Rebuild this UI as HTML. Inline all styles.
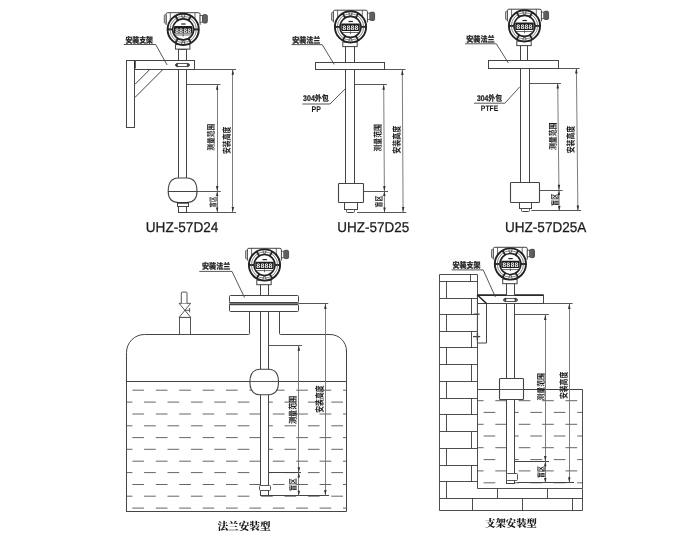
<!DOCTYPE html>
<html lang="zh-CN">
<head>
<meta charset="utf-8">
<title>UHZ-57D 安装示意图</title>
<style>
html,body{margin:0;padding:0;background:#fff;}
body{width:700px;height:546px;overflow:hidden;}
svg{display:block;will-change:transform;}
svg text{text-rendering:geometricPrecision;}
.cj{font-family:"Liberation Sans","Noto Sans CJK SC",sans-serif;font-weight:700;fill:#222;stroke:#222;stroke-width:.3;}
.cs{font-family:"Liberation Sans","Noto Sans CJK SC",sans-serif;font-weight:700;fill:#222;stroke:#222;stroke-width:.25;}
.cv{font-family:"Liberation Sans","Noto Sans CJK SC",sans-serif;font-weight:700;fill:#1a1a1a;stroke:none;}
.ct{font-family:"Liberation Serif","Noto Serif CJK SC",serif;font-weight:900;fill:#1a1a1a;stroke:none;}
.la{font-family:"Liberation Sans",sans-serif;font-weight:400;fill:#1a1a1a;stroke:#1a1a1a;stroke-width:.25;}
.lb{font-family:"Liberation Sans",sans-serif;font-weight:700;fill:#151515;stroke:none;}
.lcd{font-family:"Liberation Mono",monospace;font-weight:700;stroke:none;}
</style>
</head>
<body>
<svg width="700" height="546" viewBox="0 0 700 546" fill="none" stroke="#444444" stroke-linecap="butt" stroke-linejoin="miter">
<defs>
<clipPath id="tank"><rect x="126.8" y="382" width="220" height="129.8"/></clipPath>
<clipPath id="pit"><rect x="477.2" y="389.5" width="105.3" height="99.3"/></clipPath>
</defs>
<rect x="0" y="0" width="700" height="546" fill="#fff" stroke="none"/>
<rect x="126.5" y="60.5" width="8.0" height="67.0" fill="#fff" stroke-width="1"/>
<rect x="134.5" y="60.5" width="60.0" height="9.0" fill="#fff" stroke-width="1"/>
<line x1="134.9" y1="61.0" x2="134.9" y2="68.6" stroke-width="1.6" stroke="#222"/>
<line x1="134.9" y1="84.4" x2="149.9" y2="69.4" stroke-width="1"/>
<line x1="134.9" y1="97.5" x2="163.0" y2="69.4" stroke-width="1"/>
<rect x="178.5" y="49.5" width="8.0" height="11.0" fill="#fff" stroke-width="1"/>
<rect x="178.5" y="69.5" width="8.0" height="111.0" fill="#fff" stroke-width="1"/>
<rect x="175.5" y="63.5" width="14.0" height="3.0" fill="#fff" stroke-width="0.9" rx="1.8"/>
<path d="M175.4 65.1L177.6 63.1V67.1ZM189.4 65.1L187.2 63.1V67.1Z" fill="#222" stroke-width="0.5"/>
<path d="M178.2 178.0C171.5 178.2 168.2 183.1 168.2 191.3C168.2 198.3 171.5 202.4 178.2 202.6H187.0C193.7 202.4 197.0 198.3 197.0 191.3C197.0 183.1 193.7 178.2 187.0 178.0Z" fill="#fff" stroke-width="1.1"/>
<line x1="168.2" y1="191.5" x2="197.0" y2="191.5" stroke-width="0.9" stroke="#222"/>
<rect x="177.5" y="202.5" width="11.0" height="4.0" fill="#fff" stroke-width="1"/>
<line x1="177.2" y1="203.0" x2="188.3" y2="203.0" stroke-width="1.3" stroke="#222"/>
<rect x="178.5" y="206.5" width="8.0" height="6.0" fill="#fff" stroke-width="1"/>
<g transform="translate(183.2 29.4)">
<path d="M-17.1 -4.5V-15.2Q-17.1 -16.7 -15.6 -16.7H15.4Q16.9 -16.7 16.9 -15.2V-4.5" fill="#fff" stroke-width="1"/>
<path d="M-12.9 -16.7V-9M11.8 -16.7V-9" fill="none" stroke-width="0.8"/>
<rect x="-18.9" y="-14.5" width="1.8" height="8.2" rx="0.6" fill="#ddd" stroke-width="0.8"/>
<rect x="16.9" y="-13.8" width="2.6" height="6.6" fill="#fff" stroke-width="0.8"/>
<rect x="19.5" y="-14.7" width="4.6" height="8.3" rx="1.3" fill="#7d7d7d" stroke-width="0.9"/>
<path d="M20.8 -14.7V-6.4M22 -14.7V-6.4M23.1 -14.5V-6.6" stroke-width="0.6" fill="none"/>
<rect x="-7.7" y="15.2" width="14.4" height="4.5" fill="#fff" stroke-width="1"/>
<circle r="15.6" fill="#fff" stroke-width="1.9" stroke="#222"/>
<line x1="10.60" y1="0.00" x2="15.40" y2="0.00" stroke-width="1.9" stroke="#222"/>
<line x1="5.30" y1="9.18" x2="7.70" y2="13.34" stroke-width="1.9" stroke="#222"/>
<line x1="-5.30" y1="9.18" x2="-7.70" y2="13.34" stroke-width="1.9" stroke="#222"/>
<line x1="-10.60" y1="0.00" x2="-15.40" y2="0.00" stroke-width="1.9" stroke="#222"/>
<line x1="-5.30" y1="-9.18" x2="-7.70" y2="-13.34" stroke-width="1.9" stroke="#222"/>
<line x1="5.30" y1="-9.18" x2="7.70" y2="-13.34" stroke-width="1.9" stroke="#222"/>
<circle r="13.2" fill="none" stroke-width="0.7" stroke="#555"/>
<path d="M-1.6 -14.6L-1 -11.6H1L1.6 -14.6M-1.6 14.6L-1 11.6H1L1.6 14.6" stroke-width="0.8" fill="none"/>
<circle r="10.5" fill="#fff" stroke-width="1.6" stroke="#222"/>
<rect x="-9.2" y="-3.3" width="18.4" height="7.4" rx="1" fill="#1c1c1c" stroke="none"/>
<text class="lcd" x="-8.2" y="3.1" font-size="6.8" textLength="16.4" lengthAdjust="spacingAndGlyphs" fill="#f4f4f4">8888</text>
<path d="M-2 -5.4H2.4" stroke-width="1.2" fill="none" stroke="#222"/>
<path d="M-8.6 5.6H8.6M0 4.4V7.2" stroke-width="0.8" fill="none"/>
</g>
<path d="M123.7 44.5H155.7L167.1 65" fill="none" stroke-width="0.9"/>
<text class="cj" x="125.4" y="42.5" font-size="8.2" textLength="27.5" lengthAdjust="spacingAndGlyphs">安装支架</text>
<line x1="186.6" y1="84.5" x2="220.4" y2="84.5" stroke-width="0.9"/>
<line x1="194.5" y1="69.5" x2="236.0" y2="69.5" stroke-width="0.9"/>
<line x1="168.6" y1="191.5" x2="220.8" y2="191.5" stroke-width="0.9"/>
<line x1="186.2" y1="212.5" x2="236.0" y2="212.5" stroke-width="0.9"/>
<line x1="217.5" y1="84.4" x2="217.5" y2="212.3" stroke-width="0.9" stroke="#6e6e6e"/>
<line x1="232.5" y1="69.3" x2="232.5" y2="212.3" stroke-width="0.9" stroke="#6e6e6e"/>
<path d="M217.2 84.4L215.9 89.8L218.4 89.8Z" fill="#333" stroke="none"/>
<path d="M217.2 191.3L215.9 185.9L218.4 185.9Z" fill="#333" stroke="none"/>
<path d="M217.2 191.3L215.9 196.1L218.4 196.1Z" fill="#333" stroke="none"/>
<path d="M217.2 212.3L215.9 207.5L218.4 207.5Z" fill="#333" stroke="none"/>
<path d="M232.8 69.3L231.6 74.7L234.1 74.7Z" fill="#333" stroke="none"/>
<path d="M232.8 212.3L231.6 206.9L234.1 206.9Z" fill="#333" stroke="none"/>
<text class="cv" transform="translate(214.2 150.7) rotate(-90)" font-size="8.4" textLength="27.0" lengthAdjust="spacingAndGlyphs">测量范围</text>
<text class="cv" transform="translate(229.8 154.0) rotate(-90)" font-size="9.1" textLength="27.5" lengthAdjust="spacingAndGlyphs">安装高度</text>
<text class="cv" transform="translate(215.6 207.5) rotate(-90)" font-size="7.9" textLength="11.0" lengthAdjust="spacingAndGlyphs">盲区</text>
<text class="la" x="145.8" y="232.0" font-size="14.3" textLength="72.6" lengthAdjust="spacingAndGlyphs">UHZ-57D24</text>
<rect x="345.5" y="46.5" width="9.0" height="16.0" fill="#fff" stroke-width="1"/>
<rect x="315.5" y="62.5" width="69.0" height="7.0" fill="#fff" stroke-width="1"/>
<rect x="345.5" y="69.5" width="9.0" height="115.0" fill="#fff" stroke-width="1"/>
<rect x="338.5" y="183.5" width="25.0" height="19.0" fill="#fff" stroke-width="1.1" rx="0.8"/>
<rect x="344.5" y="202.5" width="13.0" height="7.0" fill="#fff" stroke-width="1"/>
<rect x="346.5" y="209.5" width="8.0" height="3.0" fill="#fff" stroke-width="1" rx="1"/>
<g transform="translate(350.5 26.9)">
<path d="M-17.1 -4.5V-15.2Q-17.1 -16.7 -15.6 -16.7H15.4Q16.9 -16.7 16.9 -15.2V-4.5" fill="#fff" stroke-width="1"/>
<path d="M-12.9 -16.7V-9M11.8 -16.7V-9" fill="none" stroke-width="0.8"/>
<rect x="-18.9" y="-14.5" width="1.8" height="8.2" rx="0.6" fill="#ddd" stroke-width="0.8"/>
<rect x="16.9" y="-13.8" width="2.6" height="6.6" fill="#fff" stroke-width="0.8"/>
<rect x="19.5" y="-14.7" width="4.6" height="8.3" rx="1.3" fill="#7d7d7d" stroke-width="0.9"/>
<path d="M20.8 -14.7V-6.4M22 -14.7V-6.4M23.1 -14.5V-6.6" stroke-width="0.6" fill="none"/>
<rect x="-7.7" y="15.2" width="14.4" height="4.5" fill="#fff" stroke-width="1"/>
<circle r="15.6" fill="#fff" stroke-width="1.9" stroke="#222"/>
<line x1="10.60" y1="0.00" x2="15.40" y2="0.00" stroke-width="1.9" stroke="#222"/>
<line x1="5.30" y1="9.18" x2="7.70" y2="13.34" stroke-width="1.9" stroke="#222"/>
<line x1="-5.30" y1="9.18" x2="-7.70" y2="13.34" stroke-width="1.9" stroke="#222"/>
<line x1="-10.60" y1="0.00" x2="-15.40" y2="0.00" stroke-width="1.9" stroke="#222"/>
<line x1="-5.30" y1="-9.18" x2="-7.70" y2="-13.34" stroke-width="1.9" stroke="#222"/>
<line x1="5.30" y1="-9.18" x2="7.70" y2="-13.34" stroke-width="1.9" stroke="#222"/>
<circle r="13.2" fill="none" stroke-width="0.7" stroke="#555"/>
<path d="M-1.6 -14.6L-1 -11.6H1L1.6 -14.6M-1.6 14.6L-1 11.6H1L1.6 14.6" stroke-width="0.8" fill="none"/>
<circle r="10.5" fill="#fff" stroke-width="1.6" stroke="#222"/>
<rect x="-9.2" y="-3.3" width="18.4" height="7.4" rx="1" fill="#1c1c1c" stroke="none"/>
<text class="lcd" x="-8.2" y="3.1" font-size="6.8" textLength="16.4" lengthAdjust="spacingAndGlyphs" fill="#f4f4f4">8888</text>
<path d="M-2 -5.4H2.4" stroke-width="1.2" fill="none" stroke="#222"/>
<path d="M-8.6 5.6H8.6M0 4.4V7.2" stroke-width="0.8" fill="none"/>
</g>
<path d="M291.5 44.6H322.2L334.2 64.4" fill="none" stroke-width="0.9"/>
<text class="cj" x="292.2" y="42.5" font-size="8.2" textLength="28.1" lengthAdjust="spacingAndGlyphs">安装法兰</text>
<path d="M302.4 104H330L345.6 88.5" fill="none" stroke-width="0.9"/>
<text class="cs" x="303.1" y="101.3" font-size="8.2" textLength="25.7" lengthAdjust="spacingAndGlyphs">304外包</text>
<text class="lb" x="311.6" y="111.8" font-size="8.2" textLength="9.2" lengthAdjust="spacingAndGlyphs">PP</text>
<line x1="354.8" y1="84.5" x2="386.9" y2="84.5" stroke-width="0.9"/>
<line x1="384.0" y1="69.5" x2="405.5" y2="69.5" stroke-width="0.9"/>
<line x1="363.3" y1="191.5" x2="388.0" y2="191.5" stroke-width="0.9"/>
<line x1="357.0" y1="212.5" x2="406.3" y2="212.5" stroke-width="0.9"/>
<line x1="383.7" y1="84.4" x2="384.5" y2="212.3" stroke-width="0.9" stroke="#6e6e6e"/>
<line x1="402.3" y1="69.6" x2="403.1" y2="212.3" stroke-width="0.9" stroke="#6e6e6e"/>
<path d="M383.7 84.4L382.4 89.8L384.9 89.8Z" fill="#333" stroke="none"/>
<path d="M384.4 191.3L383.1 185.9L385.6 185.9Z" fill="#333" stroke="none"/>
<path d="M384.4 191.3L383.1 196.1L385.6 196.1Z" fill="#333" stroke="none"/>
<path d="M384.5 212.3L383.2 207.5L385.8 207.5Z" fill="#333" stroke="none"/>
<path d="M402.3 69.6L401.1 75.0L403.6 75.0Z" fill="#333" stroke="none"/>
<path d="M403.1 212.3L401.9 206.9L404.4 206.9Z" fill="#333" stroke="none"/>
<text class="cv" transform="translate(381.4 151.5) rotate(-90)" font-size="8.9" textLength="27.5" lengthAdjust="spacingAndGlyphs">测量范围</text>
<text class="cv" transform="translate(399.8 153.7) rotate(-90)" font-size="9.2" textLength="27.9" lengthAdjust="spacingAndGlyphs">安装高度</text>
<text class="cv" transform="translate(382.0 207.5) rotate(-90)" font-size="8.4" textLength="11.8" lengthAdjust="spacingAndGlyphs">盲区</text>
<text class="la" x="337.3" y="232.0" font-size="14.3" textLength="71.9" lengthAdjust="spacingAndGlyphs">UHZ-57D25</text>
<rect x="520.5" y="45.5" width="7.0" height="16.0" fill="#fff" stroke-width="1"/>
<rect x="488.5" y="60.5" width="70.0" height="8.0" fill="#fff" stroke-width="1"/>
<rect x="520.5" y="68.5" width="9.0" height="115.0" fill="#fff" stroke-width="1"/>
<rect x="510.5" y="182.5" width="29.0" height="20.0" fill="#fff" stroke-width="1.1" rx="0.8"/>
<rect x="519.5" y="202.5" width="12.0" height="6.0" fill="#fff" stroke-width="1"/>
<rect x="521.5" y="208.5" width="8.0" height="3.0" fill="#fff" stroke-width="1" rx="1"/>
<g transform="translate(524.5 25.9)">
<path d="M-17.1 -4.5V-15.2Q-17.1 -16.7 -15.6 -16.7H15.4Q16.9 -16.7 16.9 -15.2V-4.5" fill="#fff" stroke-width="1"/>
<path d="M-12.9 -16.7V-9M11.8 -16.7V-9" fill="none" stroke-width="0.8"/>
<rect x="-18.9" y="-14.5" width="1.8" height="8.2" rx="0.6" fill="#ddd" stroke-width="0.8"/>
<rect x="16.9" y="-13.8" width="2.6" height="6.6" fill="#fff" stroke-width="0.8"/>
<rect x="19.5" y="-14.7" width="4.6" height="8.3" rx="1.3" fill="#7d7d7d" stroke-width="0.9"/>
<path d="M20.8 -14.7V-6.4M22 -14.7V-6.4M23.1 -14.5V-6.6" stroke-width="0.6" fill="none"/>
<rect x="-7.7" y="15.2" width="14.4" height="4.5" fill="#fff" stroke-width="1"/>
<circle r="15.6" fill="#fff" stroke-width="1.9" stroke="#222"/>
<line x1="10.60" y1="0.00" x2="15.40" y2="0.00" stroke-width="1.9" stroke="#222"/>
<line x1="5.30" y1="9.18" x2="7.70" y2="13.34" stroke-width="1.9" stroke="#222"/>
<line x1="-5.30" y1="9.18" x2="-7.70" y2="13.34" stroke-width="1.9" stroke="#222"/>
<line x1="-10.60" y1="0.00" x2="-15.40" y2="0.00" stroke-width="1.9" stroke="#222"/>
<line x1="-5.30" y1="-9.18" x2="-7.70" y2="-13.34" stroke-width="1.9" stroke="#222"/>
<line x1="5.30" y1="-9.18" x2="7.70" y2="-13.34" stroke-width="1.9" stroke="#222"/>
<circle r="13.2" fill="none" stroke-width="0.7" stroke="#555"/>
<path d="M-1.6 -14.6L-1 -11.6H1L1.6 -14.6M-1.6 14.6L-1 11.6H1L1.6 14.6" stroke-width="0.8" fill="none"/>
<circle r="10.5" fill="#fff" stroke-width="1.6" stroke="#222"/>
<rect x="-9.2" y="-3.3" width="18.4" height="7.4" rx="1" fill="#1c1c1c" stroke="none"/>
<text class="lcd" x="-8.2" y="3.1" font-size="6.8" textLength="16.4" lengthAdjust="spacingAndGlyphs" fill="#f4f4f4">8888</text>
<path d="M-2 -5.4H2.4" stroke-width="1.2" fill="none" stroke="#222"/>
<path d="M-8.6 5.6H8.6M0 4.4V7.2" stroke-width="0.8" fill="none"/>
</g>
<path d="M465 43.8H496.3L508.4 63" fill="none" stroke-width="0.9"/>
<text class="cj" x="466.2" y="41.6" font-size="8.2" textLength="28.4" lengthAdjust="spacingAndGlyphs">安装法兰</text>
<path d="M473.9 103.2H504.9L519.8 86.8" fill="none" stroke-width="0.9"/>
<text class="cs" x="476.9" y="100.7" font-size="8.2" textLength="25.1" lengthAdjust="spacingAndGlyphs">304外包</text>
<text class="lb" x="480.8" y="110.9" font-size="8.0" textLength="17.6" lengthAdjust="spacingAndGlyphs">PTFE</text>
<line x1="529.0" y1="83.5" x2="560.9" y2="83.5" stroke-width="0.9"/>
<line x1="558.4" y1="68.5" x2="579.6" y2="68.5" stroke-width="0.9"/>
<line x1="539.6" y1="190.5" x2="562.6" y2="190.5" stroke-width="0.9"/>
<line x1="531.3" y1="210.5" x2="581.1" y2="210.5" stroke-width="0.9"/>
<line x1="557.7" y1="83.2" x2="559.2" y2="210.8" stroke-width="0.9" stroke="#6e6e6e"/>
<line x1="576.4" y1="68.1" x2="577.9" y2="210.8" stroke-width="0.9" stroke="#6e6e6e"/>
<path d="M557.7 83.2L556.5 88.6L559.0 88.6Z" fill="#333" stroke="none"/>
<path d="M559.0 190.2L557.7 184.8L560.2 184.8Z" fill="#333" stroke="none"/>
<path d="M559.0 190.2L557.7 195.0L560.2 195.0Z" fill="#333" stroke="none"/>
<path d="M559.2 210.8L558.0 206.0L560.5 206.0Z" fill="#333" stroke="none"/>
<path d="M576.4 68.1L575.1 73.5L577.6 73.5Z" fill="#333" stroke="none"/>
<path d="M577.9 210.8L576.6 205.4L579.1 205.4Z" fill="#333" stroke="none"/>
<text class="cv" transform="translate(555.5 150.0) rotate(-90)" font-size="8.6" textLength="27.5" lengthAdjust="spacingAndGlyphs">测量范围</text>
<text class="cv" transform="translate(573.7 153.3) rotate(-90)" font-size="9.2" textLength="27.5" lengthAdjust="spacingAndGlyphs">安装高度</text>
<text class="cv" transform="translate(557.8 206.0) rotate(-90)" font-size="8.4" textLength="12.4" lengthAdjust="spacingAndGlyphs">盲区</text>
<text class="la" x="505.0" y="232.0" font-size="14.3" textLength="81.3" lengthAdjust="spacingAndGlyphs">UHZ-57D25A</text>
<g clip-path="url(#tank)">
<line x1="132.4" y1="390.2" x2="347" y2="390.2" stroke="#555" stroke-width="0.9" stroke-dasharray="11.7 11.7"/>
<line x1="120.7" y1="402.1" x2="347" y2="402.1" stroke="#555" stroke-width="0.9" stroke-dasharray="11.7 11.7"/>
<line x1="132.4" y1="414.0" x2="347" y2="414.0" stroke="#555" stroke-width="0.9" stroke-dasharray="11.7 11.7"/>
<line x1="120.7" y1="425.8" x2="347" y2="425.8" stroke="#555" stroke-width="0.9" stroke-dasharray="11.7 11.7"/>
<line x1="132.4" y1="437.6" x2="347" y2="437.6" stroke="#555" stroke-width="0.9" stroke-dasharray="11.7 11.7"/>
<line x1="120.7" y1="449.3" x2="347" y2="449.3" stroke="#555" stroke-width="0.9" stroke-dasharray="11.7 11.7"/>
<line x1="132.4" y1="461.2" x2="347" y2="461.2" stroke="#555" stroke-width="0.9" stroke-dasharray="11.7 11.7"/>
<line x1="120.7" y1="472.6" x2="347" y2="472.6" stroke="#555" stroke-width="0.9" stroke-dasharray="11.7 11.7"/>
<line x1="132.4" y1="484.5" x2="347" y2="484.5" stroke="#555" stroke-width="0.9" stroke-dasharray="11.7 11.7"/>
<line x1="120.7" y1="496.2" x2="347" y2="496.2" stroke="#555" stroke-width="0.9" stroke-dasharray="11.7 11.7"/>
<line x1="132.4" y1="508.1" x2="347" y2="508.1" stroke="#555" stroke-width="0.9" stroke-dasharray="11.7 11.7"/>
</g>
<path d="M126.5 511.5V352.5A18 18 0 0 1 144.5 334.5H248.5Q249.5 334.5 249.5 333.5V311.6M279.5 311.6V333.5Q279.5 334.5 280.5 334.5H330A16.5 16.5 0 0 1 346.5 351V511.5H126" fill="none" stroke-width="1"/>
<line x1="126.8" y1="381.5" x2="346.8" y2="381.5" stroke-width="1"/>
<rect x="179.5" y="317.5" width="11.0" height="17.0" fill="#fff" stroke-width="0.9"/>
<path d="M179.1 303.3H190.7L179.1 317.4H190.7Z" fill="#fff" stroke-width="0.9"/>
<path d="M184.9 310.3H189.6M189.6 308V312.4" fill="none" stroke-width="0.9"/>
<path d="M181.3 303.3V292.9Q181.3 292.1 182.1 292.1H186.2Q187 292.1 187 292.9V303.3" fill="#fff" stroke-width="0.9"/>
<rect x="260.5" y="284.5" width="8.0" height="12.0" fill="#fff" stroke-width="1"/>
<rect x="229.6" y="302.2" width="68.2" height="2.8" fill="#8c8c8c" stroke-width="0.1"/>
<rect x="229.5" y="295.5" width="69.0" height="7.0" fill="#fff" stroke-width="1" rx="1"/>
<rect x="229.5" y="304.5" width="69.0" height="7.0" fill="#fff" stroke-width="1" rx="1"/>
<line x1="229.2" y1="302.6" x2="298.2" y2="302.6" stroke-width="1.3"/>
<line x1="229.2" y1="304.7" x2="298.2" y2="304.7" stroke-width="1.3"/>
<rect x="260.5" y="311.5" width="8.0" height="184.0" fill="#fff" stroke-width="1"/>
<rect x="259.5" y="485.5" width="11.0" height="5.0" fill="#fff" stroke-width="0.9" rx="1"/>
<path d="M259.8 369.3C253.2 369.5 249.9 374.1 249.9 382.0C249.9 389.9 253.2 394.5 259.8 394.7H268.6C275.2 394.5 278.5 389.9 278.5 382.0C278.5 374.1 275.2 369.5 268.6 369.3Z" fill="#fff" stroke-width="1.1"/>
<line x1="249.8" y1="381.5" x2="278.8" y2="381.5" stroke-width="0.9"/>
<g transform="translate(264.5 265.0)">
<path d="M-17.1 -4.5V-15.2Q-17.1 -16.7 -15.6 -16.7H15.4Q16.9 -16.7 16.9 -15.2V-4.5" fill="#fff" stroke-width="1"/>
<path d="M-12.9 -16.7V-9M11.8 -16.7V-9" fill="none" stroke-width="0.8"/>
<rect x="-18.9" y="-14.5" width="1.8" height="8.2" rx="0.6" fill="#ddd" stroke-width="0.8"/>
<rect x="16.9" y="-13.8" width="2.6" height="6.6" fill="#fff" stroke-width="0.8"/>
<rect x="19.5" y="-14.7" width="4.6" height="8.3" rx="1.3" fill="#7d7d7d" stroke-width="0.9"/>
<path d="M20.8 -14.7V-6.4M22 -14.7V-6.4M23.1 -14.5V-6.6" stroke-width="0.6" fill="none"/>
<rect x="-7.7" y="15.2" width="14.4" height="4.5" fill="#fff" stroke-width="1"/>
<circle r="15.6" fill="#fff" stroke-width="1.9" stroke="#222"/>
<line x1="10.60" y1="0.00" x2="15.40" y2="0.00" stroke-width="1.9" stroke="#222"/>
<line x1="5.30" y1="9.18" x2="7.70" y2="13.34" stroke-width="1.9" stroke="#222"/>
<line x1="-5.30" y1="9.18" x2="-7.70" y2="13.34" stroke-width="1.9" stroke="#222"/>
<line x1="-10.60" y1="0.00" x2="-15.40" y2="0.00" stroke-width="1.9" stroke="#222"/>
<line x1="-5.30" y1="-9.18" x2="-7.70" y2="-13.34" stroke-width="1.9" stroke="#222"/>
<line x1="5.30" y1="-9.18" x2="7.70" y2="-13.34" stroke-width="1.9" stroke="#222"/>
<circle r="13.2" fill="none" stroke-width="0.7" stroke="#555"/>
<path d="M-1.6 -14.6L-1 -11.6H1L1.6 -14.6M-1.6 14.6L-1 11.6H1L1.6 14.6" stroke-width="0.8" fill="none"/>
<circle r="10.5" fill="#fff" stroke-width="1.6" stroke="#222"/>
<rect x="-9.2" y="-3.3" width="18.4" height="7.4" rx="1" fill="#1c1c1c" stroke="none"/>
<text class="lcd" x="-8.2" y="3.1" font-size="6.8" textLength="16.4" lengthAdjust="spacingAndGlyphs" fill="#f4f4f4">8888</text>
<path d="M-2 -5.4H2.4" stroke-width="1.2" fill="none" stroke="#222"/>
<path d="M-8.6 5.6H8.6M0 4.4V7.2" stroke-width="0.8" fill="none"/>
</g>
<path d="M199.3 271.4H232L244.5 297.5" fill="none" stroke-width="0.9"/>
<text class="cj" x="202.1" y="268.7" font-size="8.2" textLength="28.1" lengthAdjust="spacingAndGlyphs">安装法兰</text>
<line x1="268.7" y1="345.5" x2="302.0" y2="345.5" stroke-width="0.9"/>
<line x1="298.2" y1="303.5" x2="328.2" y2="303.5" stroke-width="0.9"/>
<line x1="268.7" y1="472.5" x2="301.0" y2="472.5" stroke-width="1.1"/>
<line x1="261.0" y1="495.5" x2="329.0" y2="495.5" stroke-width="1.0"/>
<line x1="298.5" y1="345.4" x2="298.5" y2="495.5" stroke-width="0.9" stroke="#6e6e6e"/>
<line x1="325.5" y1="303.6" x2="325.5" y2="495.5" stroke-width="0.9" stroke="#6e6e6e"/>
<path d="M298.8 345.4L297.6 350.8L300.1 350.8Z" fill="#333" stroke="none"/>
<path d="M298.8 472.6L297.6 467.2L300.1 467.2Z" fill="#333" stroke="none"/>
<path d="M298.8 472.6L297.6 477.4L300.1 477.4Z" fill="#333" stroke="none"/>
<path d="M298.8 495.5L297.6 490.7L300.1 490.7Z" fill="#333" stroke="none"/>
<path d="M325.3 303.6L324.1 309.0L326.6 309.0Z" fill="#333" stroke="none"/>
<path d="M325.3 495.5L324.1 490.1L326.6 490.1Z" fill="#333" stroke="none"/>
<text class="cv" transform="translate(295.8 424.0) rotate(-90)" font-size="8.8" textLength="28.4" lengthAdjust="spacingAndGlyphs">测量范围</text>
<text class="cv" transform="translate(323.4 412.8) rotate(-90)" font-size="9.3" textLength="27.4" lengthAdjust="spacingAndGlyphs">安装高度</text>
<text class="cv" transform="translate(296.4 491.2) rotate(-90)" font-size="8.4" textLength="13.0" lengthAdjust="spacingAndGlyphs">盲区</text>
<text class="ct" x="217.4" y="530.2" font-size="10.8" textLength="53.3" lengthAdjust="spacingAndGlyphs">法兰安装型</text>
<g clip-path="url(#pit)">
<line x1="471.9" y1="400.7" x2="583" y2="400.7" stroke="#555" stroke-width="0.9" stroke-dasharray="11.7 11.7"/>
<line x1="483.6" y1="412.4" x2="583" y2="412.4" stroke="#555" stroke-width="0.9" stroke-dasharray="11.7 11.7"/>
<line x1="471.9" y1="424.3" x2="583" y2="424.3" stroke="#555" stroke-width="0.9" stroke-dasharray="11.7 11.7"/>
<line x1="483.6" y1="436.0" x2="583" y2="436.0" stroke="#555" stroke-width="0.9" stroke-dasharray="11.7 11.7"/>
<line x1="471.9" y1="447.7" x2="583" y2="447.7" stroke="#555" stroke-width="0.9" stroke-dasharray="11.7 11.7"/>
<line x1="483.6" y1="459.6" x2="583" y2="459.6" stroke="#555" stroke-width="0.9" stroke-dasharray="11.7 11.7"/>
<line x1="471.9" y1="470.9" x2="583" y2="470.9" stroke="#555" stroke-width="0.9" stroke-dasharray="11.7 11.7"/>
<line x1="483.6" y1="482.8" x2="583" y2="482.8" stroke="#555" stroke-width="0.9" stroke-dasharray="11.7 11.7"/>
</g>
<path d="M439.5 510.5V274.5H477.5V488.5H582.5V389.5M582.5 488.5V510.5H439.5" fill="none" stroke-width="0.9" stroke="#3a3a3a"/>
<line x1="477.2" y1="389.5" x2="582.5" y2="389.5" stroke-width="1"/>
<line x1="439.5" y1="281.5" x2="477.5" y2="281.5" stroke-width="0.9" stroke="#3a3a3a"/>
<line x1="439.5" y1="298.5" x2="477.5" y2="298.5" stroke-width="0.9" stroke="#3a3a3a"/>
<line x1="439.5" y1="314.5" x2="477.5" y2="314.5" stroke-width="0.9" stroke="#3a3a3a"/>
<line x1="439.5" y1="331.5" x2="477.5" y2="331.5" stroke-width="0.9" stroke="#3a3a3a"/>
<line x1="439.5" y1="347.5" x2="477.5" y2="347.5" stroke-width="0.9" stroke="#3a3a3a"/>
<line x1="439.5" y1="364.5" x2="477.5" y2="364.5" stroke-width="0.9" stroke="#3a3a3a"/>
<line x1="439.5" y1="381.5" x2="477.5" y2="381.5" stroke-width="0.9" stroke="#3a3a3a"/>
<line x1="439.5" y1="398.5" x2="477.5" y2="398.5" stroke-width="0.9" stroke="#3a3a3a"/>
<line x1="439.5" y1="414.5" x2="477.5" y2="414.5" stroke-width="0.9" stroke="#3a3a3a"/>
<line x1="439.5" y1="431.5" x2="477.5" y2="431.5" stroke-width="0.9" stroke="#3a3a3a"/>
<line x1="439.5" y1="448.5" x2="477.5" y2="448.5" stroke-width="0.9" stroke="#3a3a3a"/>
<line x1="439.5" y1="465.5" x2="477.5" y2="465.5" stroke-width="0.9" stroke="#3a3a3a"/>
<line x1="439.5" y1="481.5" x2="477.5" y2="481.5" stroke-width="0.9" stroke="#3a3a3a"/>
<line x1="470.5" y1="274.5" x2="470.5" y2="281.2" stroke-width="0.9" stroke="#3a3a3a"/>
<line x1="446.5" y1="281.2" x2="446.5" y2="298.0" stroke-width="0.9" stroke="#3a3a3a"/>
<line x1="471.5" y1="298.0" x2="471.5" y2="314.7" stroke-width="0.9" stroke="#3a3a3a"/>
<line x1="446.5" y1="314.7" x2="446.5" y2="331.3" stroke-width="0.9" stroke="#3a3a3a"/>
<line x1="471.5" y1="331.3" x2="471.5" y2="347.9" stroke-width="0.9" stroke="#3a3a3a"/>
<line x1="446.5" y1="347.9" x2="446.5" y2="364.5" stroke-width="0.9" stroke="#3a3a3a"/>
<line x1="471.5" y1="364.5" x2="471.5" y2="381.1" stroke-width="0.9" stroke="#3a3a3a"/>
<line x1="446.5" y1="381.1" x2="446.5" y2="398.1" stroke-width="0.9" stroke="#3a3a3a"/>
<line x1="471.5" y1="398.1" x2="471.5" y2="414.9" stroke-width="0.9" stroke="#3a3a3a"/>
<line x1="446.5" y1="414.9" x2="446.5" y2="431.7" stroke-width="0.9" stroke="#3a3a3a"/>
<line x1="471.5" y1="431.7" x2="471.5" y2="448.5" stroke-width="0.9" stroke="#3a3a3a"/>
<line x1="446.5" y1="448.5" x2="446.5" y2="465.2" stroke-width="0.9" stroke="#3a3a3a"/>
<line x1="471.5" y1="465.2" x2="471.5" y2="481.9" stroke-width="0.9" stroke="#3a3a3a"/>
<line x1="446.5" y1="481.9" x2="446.5" y2="498.4" stroke-width="0.9" stroke="#3a3a3a"/>
<line x1="439.5" y1="498.5" x2="582.5" y2="498.5" stroke-width="0.9" stroke="#3a3a3a"/>
<line x1="497.5" y1="488.5" x2="497.5" y2="498.4" stroke-width="0.9" stroke="#3a3a3a"/>
<line x1="547.5" y1="488.5" x2="547.5" y2="498.4" stroke-width="0.9" stroke="#3a3a3a"/>
<line x1="472.5" y1="498.4" x2="472.5" y2="510.5" stroke-width="0.9" stroke="#3a3a3a"/>
<line x1="522.5" y1="498.4" x2="522.5" y2="510.5" stroke-width="0.9" stroke="#3a3a3a"/>
<line x1="572.5" y1="498.4" x2="572.5" y2="510.5" stroke-width="0.9" stroke="#3a3a3a"/>
<path d="M477.4 295V343H486.5V303.5" fill="#fff" stroke-width="1"/>
<rect x="477.5" y="295.5" width="66.0" height="8.0" fill="#fff" stroke-width="1"/>
<line x1="477.4" y1="295.0" x2="486.5" y2="303.5" stroke-width="1.5" stroke="#222"/>
<line x1="477.0" y1="295.0" x2="543.6" y2="295.0" stroke-width="1.5" stroke="#222"/>
<line x1="473.5" y1="314.2" x2="479.6" y2="314.2" stroke-width="1.3"/>
<line x1="473.0" y1="336.6" x2="480.2" y2="336.6" stroke-width="1.3"/>
<line x1="477.4" y1="333.0" x2="477.4" y2="340.0" stroke-width="1.4"/>
<rect x="506.5" y="283.5" width="8.0" height="12.0" fill="#fff" stroke-width="1"/>
<rect x="506.5" y="303.5" width="8.0" height="180.0" fill="#fff" stroke-width="1"/>
<rect x="503.5" y="298.5" width="14.0" height="3.0" fill="#fff" stroke-width="0.9" rx="1.6"/>
<path d="M503.8 299.7L505.9 297.8V301.6ZM517 299.7L514.9 297.8V301.6Z" fill="#222" stroke-width="0.5"/>
<rect x="499.5" y="378.5" width="24.0" height="21.0" fill="#fff" stroke-width="1.1" rx="0.8"/>
<line x1="499.5" y1="389.5" x2="523.0" y2="389.5" stroke-width="0.9"/>
<rect x="506.5" y="473.5" width="11.0" height="7.0" fill="#fff" stroke-width="0.9" rx="1"/>
<g transform="translate(510.4 264.0)">
<path d="M-17.1 -4.5V-15.2Q-17.1 -16.7 -15.6 -16.7H15.4Q16.9 -16.7 16.9 -15.2V-4.5" fill="#fff" stroke-width="1"/>
<path d="M-12.9 -16.7V-9M11.8 -16.7V-9" fill="none" stroke-width="0.8"/>
<rect x="-18.9" y="-14.5" width="1.8" height="8.2" rx="0.6" fill="#ddd" stroke-width="0.8"/>
<rect x="16.9" y="-13.8" width="2.6" height="6.6" fill="#fff" stroke-width="0.8"/>
<rect x="19.5" y="-14.7" width="4.6" height="8.3" rx="1.3" fill="#7d7d7d" stroke-width="0.9"/>
<path d="M20.8 -14.7V-6.4M22 -14.7V-6.4M23.1 -14.5V-6.6" stroke-width="0.6" fill="none"/>
<rect x="-7.7" y="15.2" width="14.4" height="4.5" fill="#fff" stroke-width="1"/>
<circle r="15.6" fill="#fff" stroke-width="1.9" stroke="#222"/>
<line x1="10.60" y1="0.00" x2="15.40" y2="0.00" stroke-width="1.9" stroke="#222"/>
<line x1="5.30" y1="9.18" x2="7.70" y2="13.34" stroke-width="1.9" stroke="#222"/>
<line x1="-5.30" y1="9.18" x2="-7.70" y2="13.34" stroke-width="1.9" stroke="#222"/>
<line x1="-10.60" y1="0.00" x2="-15.40" y2="0.00" stroke-width="1.9" stroke="#222"/>
<line x1="-5.30" y1="-9.18" x2="-7.70" y2="-13.34" stroke-width="1.9" stroke="#222"/>
<line x1="5.30" y1="-9.18" x2="7.70" y2="-13.34" stroke-width="1.9" stroke="#222"/>
<circle r="13.2" fill="none" stroke-width="0.7" stroke="#555"/>
<path d="M-1.6 -14.6L-1 -11.6H1L1.6 -14.6M-1.6 14.6L-1 11.6H1L1.6 14.6" stroke-width="0.8" fill="none"/>
<circle r="10.5" fill="#fff" stroke-width="1.6" stroke="#222"/>
<rect x="-9.2" y="-3.3" width="18.4" height="7.4" rx="1" fill="#1c1c1c" stroke="none"/>
<text class="lcd" x="-8.2" y="3.1" font-size="6.8" textLength="16.4" lengthAdjust="spacingAndGlyphs" fill="#f4f4f4">8888</text>
<path d="M-2 -5.4H2.4" stroke-width="1.2" fill="none" stroke="#222"/>
<path d="M-8.6 5.6H8.6M0 4.4V7.2" stroke-width="0.8" fill="none"/>
</g>
<path d="M451.5 269.9H483.2L495.4 297" fill="none" stroke-width="0.9"/>
<text class="cj" x="452.4" y="267.6" font-size="8.2" textLength="28.0" lengthAdjust="spacingAndGlyphs">安装支架</text>
<line x1="514.8" y1="314.5" x2="548.8" y2="314.5" stroke-width="0.9"/>
<line x1="543.2" y1="303.5" x2="572.6" y2="303.5" stroke-width="0.9"/>
<line x1="514.8" y1="461.5" x2="549.0" y2="461.5" stroke-width="1.0"/>
<line x1="517.4" y1="482.5" x2="574.0" y2="482.5" stroke-width="1.0"/>
<line x1="545.5" y1="314.5" x2="545.5" y2="482.7" stroke-width="0.9" stroke="#6e6e6e"/>
<line x1="569.5" y1="303.5" x2="569.5" y2="482.7" stroke-width="0.9" stroke="#6e6e6e"/>
<path d="M545.3 314.5L544.0 319.9L546.5 319.9Z" fill="#333" stroke="none"/>
<path d="M545.3 461.5L544.0 456.1L546.5 456.1Z" fill="#333" stroke="none"/>
<path d="M545.3 461.5L544.0 466.3L546.5 466.3Z" fill="#333" stroke="none"/>
<path d="M545.3 482.7L544.0 477.9L546.5 477.9Z" fill="#333" stroke="none"/>
<path d="M569.3 303.5L568.0 308.9L570.5 308.9Z" fill="#333" stroke="none"/>
<path d="M569.3 482.7L568.0 477.3L570.5 477.3Z" fill="#333" stroke="none"/>
<text class="cv" transform="translate(543.5 400.5) rotate(-90)" font-size="8.4" textLength="27.5" lengthAdjust="spacingAndGlyphs">测量范围</text>
<text class="cv" transform="translate(567.4 399.1) rotate(-90)" font-size="9.1" textLength="27.4" lengthAdjust="spacingAndGlyphs">安装高度</text>
<text class="cv" transform="translate(544.4 478.0) rotate(-90)" font-size="8.2" textLength="12.0" lengthAdjust="spacingAndGlyphs">盲区</text>
<text class="ct" x="485.0" y="527.2" font-size="10.6" textLength="51.9" lengthAdjust="spacingAndGlyphs">支架安装型</text>
</svg>
</body>
</html>
